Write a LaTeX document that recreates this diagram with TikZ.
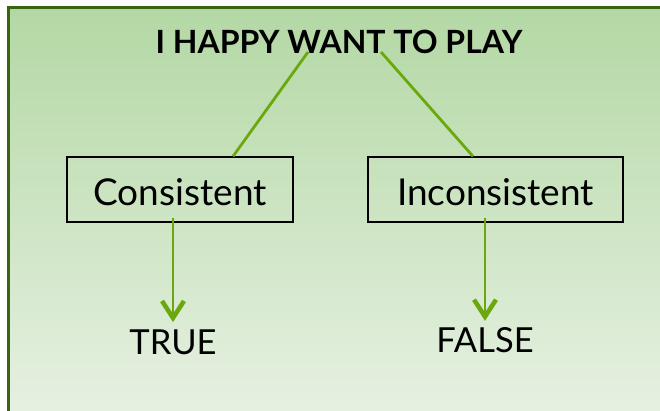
\documentclass[tikz,border=0pt]{standalone}
\usepackage{fontspec}
\setmainfont{Lato}
\usetikzlibrary{arrows.meta,calc}
\definecolor{frameGreen}{HTML}{3B6410}
\definecolor{bgTop}{HTML}{B3D8A4}
\definecolor{bgBottom}{HTML}{E7F1E3}
\definecolor{linkGreen}{HTML}{6AA80E}
\begin{document}
\begin{tikzpicture}[x=1pt,y=-1pt,
  titletext/.style={anchor=base, inner sep=0pt, font=\bfseries\fontsize{32}{32}\selectfont},
  choicebox/.style={draw=black, line width=1.3pt, inner sep=0pt,
    minimum height=65pt, text height=31pt, text depth=0pt,
    font=\fontsize{37}{37}\selectfont},
  verdict/.style={anchor=base, inner sep=0pt, font=\fontsize{34.5}{34.5}\selectfont},
  link/.style={draw=linkGreen, line width=2.8pt},
  arrowlink/.style={link, -{Straight Barb[length=17pt, width=22pt, line width=4.5pt 0]}}]
\useasboundingbox (0,0) rectangle (660,410);

% shaded panel with its dark green frame
\begin{scope}
  \clip (0,0) rectangle (660,410);
  \shade[top color=bgTop, bottom color=bgBottom] (8,7) rectangle (670,420);
  \draw[frameGreen, line width=3pt] (8,420) -- (8,7) -- (670,7);
\end{scope}

% statement and the two readings
\node[titletext] (title) at (339,53) {I HAPPY WANT TO PLAY};
\node[choicebox, minimum width=226pt] (cons) at (180,189.5) {Consistent};
\node[choicebox, minimum width=255pt] (incons) at (495.5,189.5) {Inconsistent};

% outcomes
\node[verdict] (true) at (173,354) {TRUE};
\node[verdict] (false) at (485,352) {FALSE};

% branches from the statement
\draw[link] ($(title.base)+(-31,-1)$) -- ([xshift=53pt]cons.north);
\draw[link] ($(title.base)+(42,-1)$) -- ([xshift=-22.5pt]incons.north);

% arrows to the outcomes
\draw[arrowlink, shorten >=7pt] ([yshift=5pt]cons.south -| true.north) -- (true.north);
\draw[arrowlink, shorten >=6pt] ([yshift=5pt]incons.south -| false.north) -- (false.north);
\end{tikzpicture}
\end{document}
